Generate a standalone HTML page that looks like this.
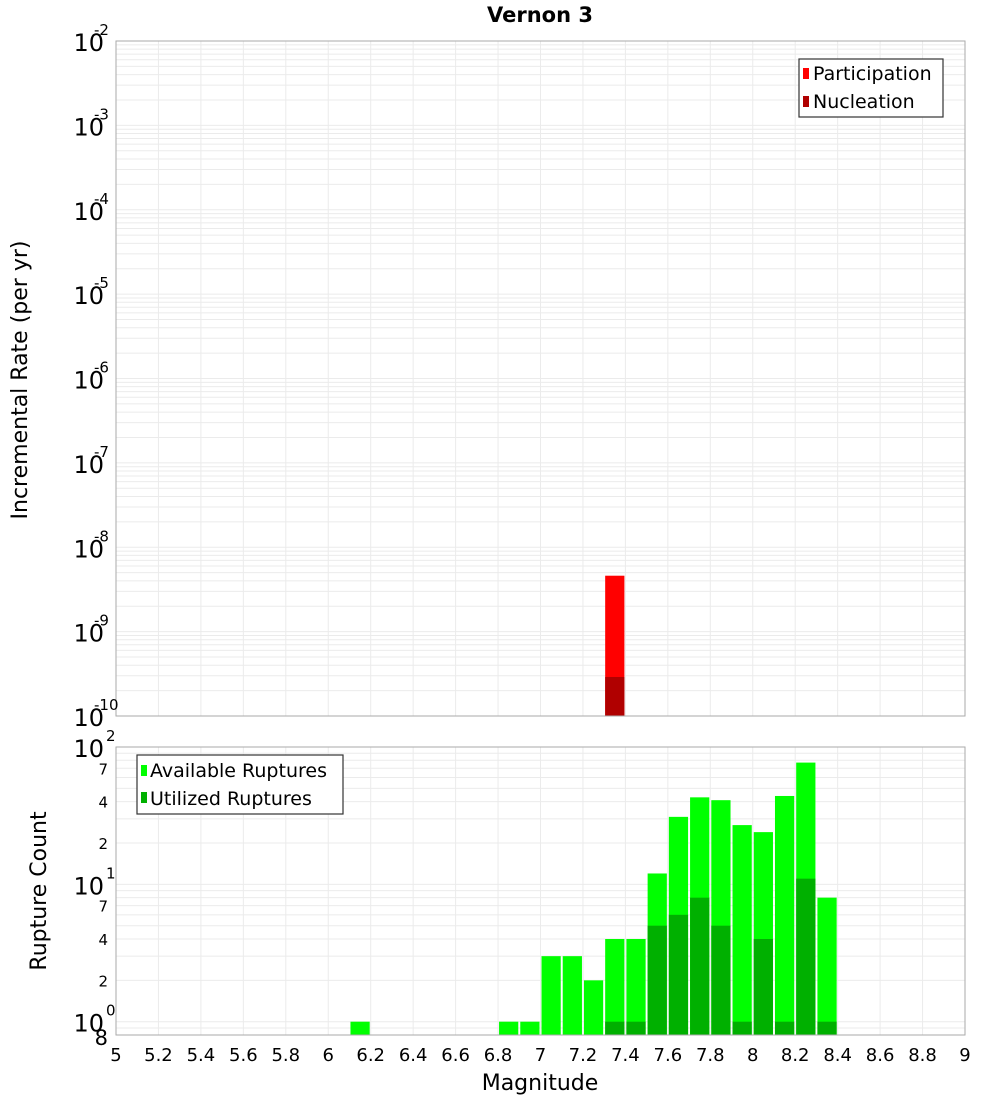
<!DOCTYPE html>
<html><head><meta charset="utf-8"><style>
body{margin:0;background:#fff;font-family:"Liberation Sans","DejaVu Sans",sans-serif}
svg text{font-family:"DejaVu Sans","Liberation Sans",sans-serif}
</style></head><body>
<svg id="c" width="1000" height="1100" xmlns="http://www.w3.org/2000/svg">
<rect width="1000" height="1100" fill="#fff"/>
<text x="540" y="22" text-anchor="middle" font-size="21" font-weight="bold">Vernon 3</text>
<g id="topg"></g><g id="botg"></g>
<text transform="translate(27,380) rotate(-90)" text-anchor="middle" font-size="22">Incremental Rate (per yr)</text>
<text transform="translate(46,891) rotate(-90)" text-anchor="middle" font-size="22">Rupture Count</text>
<text x="540" y="1090" text-anchor="middle" font-size="22">Magnitude</text>
<g id="legends">
<g>
<rect x="799" y="59" width="144" height="58" fill="#fff" stroke="#333" stroke-width="1.2"/>
<rect x="803" y="68" width="6" height="11" fill="#ff0000"/>
<text x="813" y="80" font-size="19">Participation</text>
<rect x="803" y="96" width="6" height="11" fill="#b00000"/>
<text x="813" y="108" font-size="19">Nucleation</text>
</g>
<g>
<rect x="137" y="755" width="206" height="59" fill="#fff" stroke="#333" stroke-width="1.2"/>
<rect x="141" y="765" width="6" height="11" fill="#00ff00"/>
<text x="150" y="777" font-size="19">Available Ruptures</text>
<rect x="141" y="792" width="6" height="11" fill="#00b000"/>
<text x="150" y="805" font-size="19">Utilized Ruptures</text>
</g>
</g>
</svg>
<script>
const NS='http://www.w3.org/2000/svg';
const topMags=[7.35];
const participation=[4.6e-9];
const nucleation=[2.9e-10];
const botMags=[6.15,6.85,6.95,7.05,7.15,7.25,7.35,7.45,7.55,7.65,7.75,7.85,7.95,8.05,8.15,8.25,8.35];
const available=[1,1,1,3,3,2,4,4,12,31,43,41,27,24,44,77,8];
const utilized=[0,0,0,0,0,0,1,1,5,6,8,5,1,4,1,11,1];
const xTicks=[5,5.2,5.4,5.6,5.8,6,6.2,6.4,6.6,6.8,7,7.2,7.4,7.6,7.8,8,8.2,8.4,8.6,8.8,9];
const topExps=[-2,-3,-4,-5,-6,-7,-8,-9,-10];
const botExps=[2,1,0];
const botMinor=[7,4,2];
const L=116,R=965;
const X=m=>L+(m-5)/4*(R-L);
const T0=41,T1=716;
const YT=v=>T0+(-2-Math.log10(v))/8*(T1-T0);
const B0=747,B1=1035,bMax=100,bMin=0.8;
const YB=v=>B0+(Math.log10(bMax)-Math.log10(v))/(Math.log10(bMax)-Math.log10(bMin))*(B1-B0);
function el(p,t,a){const e=document.createElementNS(NS,t);for(const k in a)e.setAttribute(k,a[k]);p.appendChild(e);return e;}
const gTop=document.getElementById('topg'),gBot=document.getElementById('botg');
function grids(g,y0,y1,Yf,lo,hi){
  for(const t of xTicks){const l=el(g,'line',{x1:X(t),x2:X(t),y1:y0,y2:y1,stroke:'#ebebeb'});
  
  }
  for(let e=lo;e<hi;e++)for(let k=1;k<10;k++){const y=Yf(k*Math.pow(10,e));if(y<y0-0.5||y>y1+0.5)continue;
    const l=el(g,'line',{x1:L,x2:R,y1:y,y2:y,stroke:'#ebebeb'});
    
    }
}
grids(gTop,T0,T1,YT,-10,-2);
grids(gBot,B0,B1,YB,-1,2);
topMags.forEach((m,i)=>{
  let r=el(gTop,'rect',{x:X(m-0.05)+1,width:X(m+0.05)-X(m-0.05)-2,y:YT(participation[i]),height:T1-YT(participation[i]),fill:'#ff0000'});
  
  
  r=el(gTop,'rect',{x:X(m-0.05)+1,width:X(m+0.05)-X(m-0.05)-2,y:YT(nucleation[i]),height:T1-YT(nucleation[i]),fill:'#b00000'});
  
  
});
botMags.forEach((m,i)=>{
  const w=X(m+0.05)-X(m-0.05)-2;
  if(available[i]>0){const r=el(gBot,'rect',{x:X(m-0.05)+1,width:w,y:YB(available[i]),height:B1-YB(available[i]),fill:'#00ff00'});
  
  }
  if(utilized[i]>0){const r=el(gBot,'rect',{x:X(m-0.05)+1,width:w,y:YB(utilized[i]),height:B1-YB(utilized[i]),fill:'#00b000'});
  
  }
});
let f=el(gTop,'rect',{x:L,y:T0,width:R-L,height:T1-T0,fill:'none',stroke:'#aaa'});


f=el(gBot,'rect',{x:L,y:B0,width:R-L,height:B1-B0,fill:'none',stroke:'#aaa'});


topExps.forEach(e=>{const y=YT(Math.pow(10,e));
  const t=el(gTop,'text',{x:104,y:y+10,'text-anchor':'end','font-size':24});
  
  
  t.textContent='10';
  const s=el(gTop,'text',{x:104,y:y-6,'font-size':15,'text-anchor':'start',dx:-10});
  
  
  s.textContent=String(e);
});
botExps.forEach(e=>{const y=YB(Math.pow(10,e));
  const t=el(gBot,'text',{x:104,y:y+10,'text-anchor':'end','font-size':24});
  
  
  t.textContent='10';
  const s=el(gBot,'text',{x:106,y:y-6,'font-size':15,'text-anchor':'start'});
  
  
  s.textContent=String(e);
});
[1,0].forEach(e=>botMinor.forEach(k=>{const y=YB(k*Math.pow(10,e));
  const t=el(gBot,'text',{x:108,y:y+6,'text-anchor':'end','font-size':15});
  
  
  t.textContent=String(k);}));
{const t=el(gBot,'text',{x:108,y:YB(0.8)+10,'text-anchor':'end','font-size':21});


t.textContent='8';}
xTicks.forEach(m=>{const t=el(gBot,'text',{x:X(m),y:1061,'text-anchor':'middle','font-size':18});
  
  
  t.textContent=String(m);});
const svg=document.getElementById('c');
svg.appendChild(document.getElementById('legends'));
</script>
</body></html>
